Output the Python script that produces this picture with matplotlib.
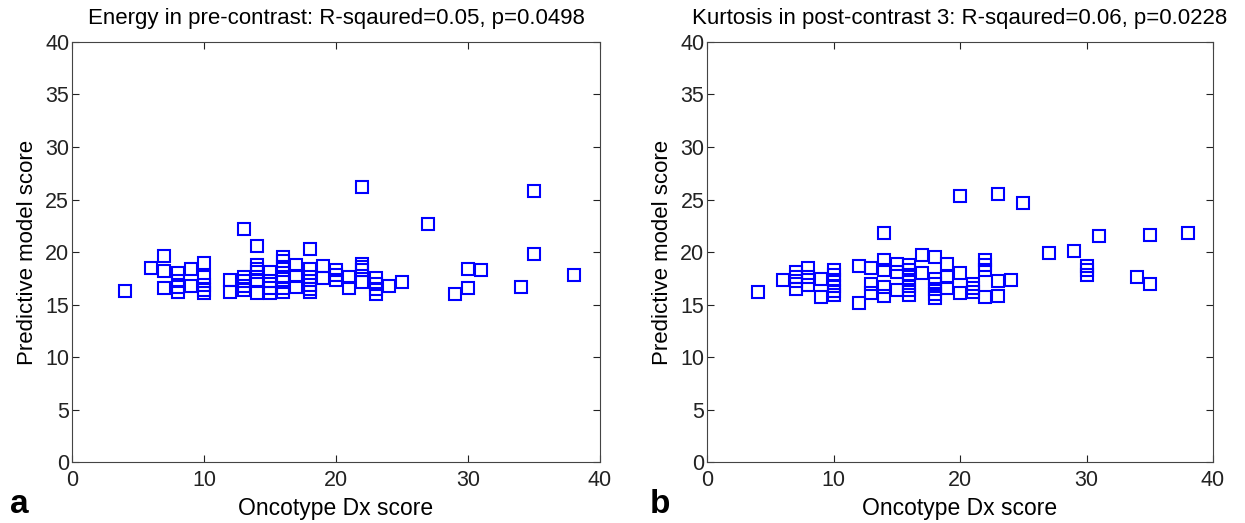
import matplotlib.pyplot as plt

plt.rcParams['font.family'] = ['Liberation Sans', 'DejaVu Sans']

# ---------------------------------------
# Data
# ---------------------------------------

# panel a: Energy in pre-contrast
a_x = [4, 6, 7, 7, 7, 8, 8, 8, 8, 9, 9, 10, 10, 10, 10, 10,
       12, 12, 13, 13, 13, 13, 13, 14, 14, 14, 14, 14, 14,
       15, 15, 15, 15, 16, 16, 16, 16, 16, 16, 16, 17, 17, 17,
       18, 18, 18, 18, 18, 18, 19, 19, 20, 20, 20, 21, 21,
       22, 22, 22, 22, 22, 23, 23, 23, 23, 24, 25, 27, 29,
       30, 30, 31, 34, 35, 35, 38]
a_y = [16.3, 18.5, 19.6, 18.2, 16.6, 18.0, 17.2, 16.7, 16.2, 18.4, 16.8,
       19.0, 17.6, 16.9, 16.4, 16.1,
       17.3, 16.2, 22.2, 17.6, 17.2, 16.8, 16.4, 20.6, 18.8, 18.4, 18.1, 17.3, 16.1,
       18.1, 17.2, 16.6, 16.1, 19.5, 19.1, 18.6, 17.6, 17.1, 16.6, 16.2, 18.8, 17.7, 16.7,
       20.3, 18.4, 17.6, 16.9, 16.5, 16.2, 18.7, 17.5, 18.3, 17.8, 17.3, 17.6, 16.6,
       26.2, 18.9, 18.6, 18.3, 17.1, 17.5, 17.0, 16.5, 16.0, 16.8, 17.1, 22.7, 16.0,
       18.4, 16.6, 18.3, 16.7, 25.8, 19.8, 17.8]

# panel b: Kurtosis in post-contrast 3
b_x = [4, 6, 7, 7, 7, 7, 8, 8, 8, 9, 9, 10, 10, 10, 10, 10, 10,
       12, 12, 13, 13, 13, 14, 14, 14, 14, 14, 15, 15, 15,
       16, 16, 16, 16, 16, 16, 16, 17, 17, 18, 18, 18, 18, 18, 18,
       19, 19, 19, 20, 20, 20, 21, 21, 21, 22, 22, 22, 22,
       23, 23, 23, 24, 25, 27, 29, 30, 30, 30, 31, 34, 35, 35, 38]
b_y = [16.2, 17.3, 18.1, 17.6, 17.2, 16.5, 18.5, 17.6, 16.9, 17.4, 15.7,
       18.3, 17.8, 17.3, 16.8, 16.3, 15.9,
       18.7, 15.1, 18.5, 17.0, 16.1, 21.8, 19.2, 18.3, 16.7, 15.8, 18.9, 18.1, 16.4,
       18.8, 18.3, 17.8, 17.3, 16.8, 16.4, 15.9, 19.7, 18.0, 19.5, 17.4, 17.0, 16.5, 16.0, 15.6,
       18.9, 17.6, 16.6, 25.3, 18.0, 16.1, 17.0, 16.6, 16.2, 19.2, 18.8, 18.3, 15.7,
       25.5, 17.2, 15.8, 17.3, 24.7, 19.9, 20.1, 18.7, 18.3, 17.8, 21.5, 17.6, 21.6, 17.0, 21.8]

titles = ["Energy in pre-contrast: R-sqaured=0.05, p=0.0498",
          "Kurtosis in post-contrast 3: R-sqaured=0.06, p=0.0228"]

# ---------------------------------------
# Figure
# ---------------------------------------

fig = plt.figure(figsize=(12.45, 5.23), dpi=100)

ax_a = fig.add_axes([0.0578, 0.1166, 0.4241, 0.8031])
ax_b = fig.add_axes([0.5679, 0.1166, 0.4064, 0.8031])

for ax, xs, ys, title in zip([ax_a, ax_b], [a_x, b_x], [a_y, b_y], titles):
    ax.plot(xs, ys, linestyle="none", marker="s", markersize=8,
            markerfacecolor="none", markeredgecolor="#0000ff", markeredgewidth=1.5)
    ax.set_xlim(0, 40)
    ax.set_ylim(0, 40)
    ax.set_xticks(range(0, 41, 10))
    ax.set_yticks(range(0, 41, 5))
    ax.tick_params(direction="in", top=True, right=True, length=5,
                   labelsize=15.5, colors="#222222")
    ax.tick_params(axis="x", pad=6)
    ax.tick_params(axis="y", pad=2)
    for s in ax.spines.values():
        s.set_color("#444444")
    ax.set_title(title, fontsize=16, pad=13)
    ax.set_xlabel("Oncotype Dx score", fontsize=16.5, labelpad=4)
    ax.set_ylabel("Predictive model score", fontsize=16, labelpad=5)

fig.text(0.008, 0.02, "a", fontsize=24, fontweight="bold")
fig.text(0.522, 0.02, "b", fontsize=24, fontweight="bold")

plt.savefig("out.png", dpi=100)
plt.close()
